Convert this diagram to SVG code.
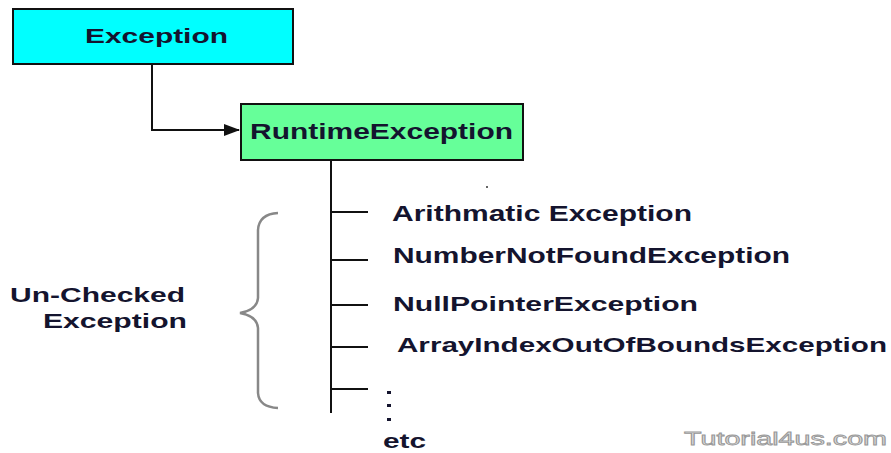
<svg xmlns="http://www.w3.org/2000/svg" width="891" height="453" viewBox="0 0 891 453">
<defs>
<style>
.box{stroke:#111;stroke-width:2}
.t{font-family:"Liberation Sans",Arial,sans-serif;font-weight:bold;fill:#14142e}
.ln{stroke:#111;stroke-width:2;fill:none}
</style>
<marker id="ah" markerWidth="16" markerHeight="12" refX="15" refY="6" orient="auto" markerUnits="userSpaceOnUse">
<path d="M0,0 L16,6 L0,12 Z" fill="#111"/>
</marker>
</defs>
<rect width="891" height="453" fill="#fff"/>
<g id="connectors">
<path class="ln" d="M152,65 V130 H239" marker-end="url(#ah)"/>
<path class="ln" d="M331,160 V413"/>
<path class="ln" d="M331,212 H368 M331,260 H368 M331,305 H368 M331,347 H368 M331,389 H368"/>
</g>
<g id="exception">
<rect class="box" x="13" y="9" width="280" height="55" fill="#00ffff"/>
<text class="t" x="85" y="43" font-size="21" textLength="143" lengthAdjust="spacingAndGlyphs">Exception</text>
</g>
<g id="runtime">
<rect class="box" x="241" y="104" width="282" height="56" fill="#66ff99"/>
<text class="t" x="250" y="139" font-size="22" textLength="263" lengthAdjust="spacingAndGlyphs">RuntimeException</text>
</g>
<g id="arith"><text class="t" x="392" y="221" font-size="22" textLength="300" lengthAdjust="spacingAndGlyphs">Arithmatic Exception</text></g>
<g id="number"><text class="t" x="393" y="263" font-size="22" textLength="397" lengthAdjust="spacingAndGlyphs">NumberNotFoundException</text></g>
<g id="null"><text class="t" x="393" y="311" font-size="21" textLength="305" lengthAdjust="spacingAndGlyphs">NullPointerException</text></g>
<g id="array"><text class="t" x="397" y="352" font-size="21" textLength="490" lengthAdjust="spacingAndGlyphs">ArrayIndexOutOfBoundsException</text></g>
<g id="etc">
<rect x="387" y="391" width="4" height="3" fill="#14142e"/>
<rect x="387" y="404" width="4" height="3" fill="#14142e"/>
<rect x="387" y="418" width="4" height="3" fill="#14142e"/>
<text class="t" x="383" y="448" font-size="20" textLength="43" lengthAdjust="spacingAndGlyphs">etc</text>
</g>
<g id="unchecked">
<path d="M278,213 Q259,214 258,230 V298 Q257,310 240,313 Q257,316 258,328 V393 Q259,407 278,408" fill="none" stroke="#888" stroke-width="2.5"/>
<text class="t" x="10" y="302" font-size="21" textLength="175" lengthAdjust="spacingAndGlyphs">Un-Checked</text>
<text class="t" x="43" y="328" font-size="21" textLength="144" lengthAdjust="spacingAndGlyphs">Exception</text>
</g>
<circle cx="487" cy="187" r="1" fill="#333"/>
<text x="684" y="445" font-family="'Liberation Sans',Arial,sans-serif" font-size="18" fill="#ddd" stroke="#999" stroke-width="0.8" textLength="203" lengthAdjust="spacingAndGlyphs">Tutorial4us.com</text>
</svg>
